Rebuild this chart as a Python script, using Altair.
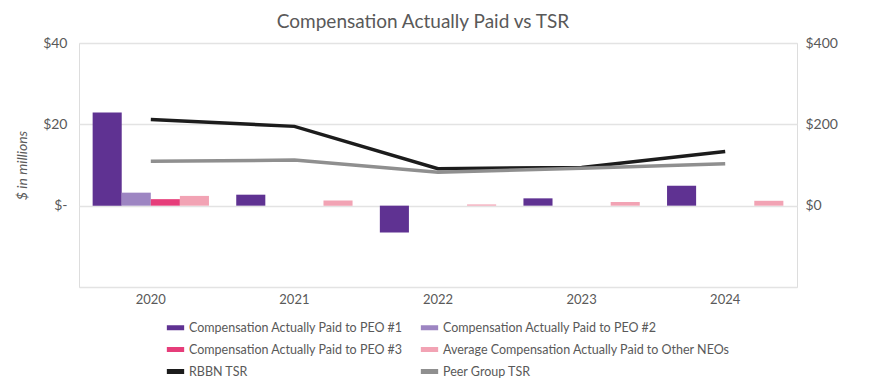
import altair as alt
import pandas as pd

years = ["2020", "2021", "2022", "2023", "2024"]
peo1 = [22.9, 2.7, -6.6, 1.8, 4.9]
peo2 = [3.2, 0, 0, 0, 0]
peo3 = [1.6, 0, 0, 0, 0]
neo = [2.4, 1.3, 0.3, 0.9, 1.2]
rbbn_tsr = [212, 195, 91, 94, 133]
peer_tsr = [109, 112, 82, 92, 103]

bar_series = [
    "Compensation Actually Paid to PEO #1",
    "Compensation Actually Paid to PEO #2",
    "Compensation Actually Paid to PEO #3",
    "Average Compensation Actually Paid to Other NEOs",
]
line_series = ["RBBN TSR", "Peer Group TSR"]
bar_colors = ["#5f3292", "#9d85c2", "#e63d7a", "#f2a3b4"]
line_colors = ["#1c1c1c", "#8f8f8f"]

rows = []
for s, vals in zip(bar_series, [peo1, peo2, peo3, neo]):
    for y, v in zip(years, vals):
        rows.append({"year": y, "series": s, "value": v})
bars_df = pd.DataFrame(rows)

rows = []
for s, vals in zip(line_series, [rbbn_tsr, peer_tsr]):
    for y, v in zip(years, vals):
        rows.append({"year": y, "series": s, "value": v})
lines_df = pd.DataFrame(rows)

# legend fills column by column: reorder so rows read like the reference
legend_domain = [bar_series[0], bar_series[2], line_series[0],
                 bar_series[1], bar_series[3], line_series[1]]
legend_range = [bar_colors[0], bar_colors[2], line_colors[0],
                bar_colors[1], bar_colors[3], line_colors[1]]

FONT = "Lato"
GREY = "#595959"

x_enc = alt.X(
    "year:N",
    sort=years,
    scale=alt.Scale(paddingInner=0.19, paddingOuter=0.095),
    axis=alt.Axis(title=None, labelAngle=0, ticks=False, domain=False, grid=False,
                  labelPadding=6, labelFont=FONT, labelFontSize=13, labelColor=GREY),
)

bars = alt.Chart(bars_df).mark_bar().encode(
    x=x_enc,
    xOffset=alt.XOffset("series:N", sort=bar_series,
                        scale=alt.Scale(domain=bar_series, paddingInner=0, paddingOuter=0)),
    y=alt.Y("value:Q", scale=alt.Scale(domain=[-20, 40], nice=False),
            axis=alt.Axis(values=[-20, 0, 20, 40],
                          labelExpr="datum.value > 0 ? '$' + datum.value : (datum.value == 0 ? '$-' : '')",
                          ticks=False, domain=False, grid=True, gridColor="#e3e3e3", gridWidth=1.5,
                          labelPadding=12, labelFont=FONT, labelFontSize=14, labelColor=GREY,
                          title="$ in millions", titleFont=FONT, titleFontSize=14,
                          titleFontStyle="italic", titleFontWeight="normal", titleColor=GREY,
                          titleX=-50, titleY=122)),
    color=alt.Color("series:N", scale=alt.Scale(domain=bar_series, range=bar_colors), legend=None),
)

lines = alt.Chart(lines_df).mark_line(strokeWidth=3.5, strokeCap="butt").encode(
    x=x_enc,
    y=alt.Y("value:Q", scale=alt.Scale(domain=[-200, 400], nice=False),
            axis=alt.Axis(orient="right", values=[-200, 0, 200, 400],
                          labelExpr="datum.value >= 0 ? '$' + datum.value : ''",
                          ticks=False, domain=False, grid=False, labelPadding=8,
                          labelFont=FONT, labelFontSize=14, labelColor=GREY, title=None)),
    color=alt.Color("series:N",
                    scale=alt.Scale(domain=legend_domain, range=legend_range),
                    legend=alt.Legend(title=None, orient="none", legendX=85, legendY=273,
                                      columns=2, columnPadding=7, rowPadding=-2,
                                      symbolType="stroke", symbolStrokeWidth=5, symbolSize=300,
                                      labelFont=FONT, labelFontSize=12.5, labelColor=GREY,
                                      labelOffset=2, labelLimit=400)),
)

chart = alt.layer(bars, lines).resolve_scale(y="independent", color="independent").properties(
    width=718,
    height=244,
    autosize=alt.AutoSizeParams(type="none"),
    padding={"left": 71, "top": 35, "right": 71, "bottom": 97},
    title=alt.Title("Compensation Actually Paid vs TSR", font=FONT, fontSize=19,
                    fontWeight="normal", color=GREY, anchor="middle", dx=-15, offset=4),
).configure_view(stroke=None).configure(background="white")

chart.save("out.html", embed_options={"renderer": "svg", "actions": False})
